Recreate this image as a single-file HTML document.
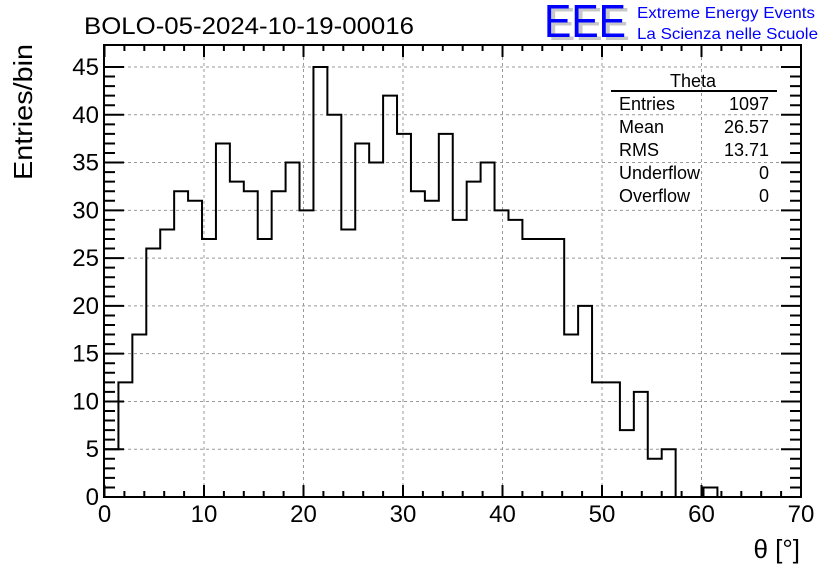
<!DOCTYPE html>
<html><head><meta charset="utf-8"><style>
html,body{margin:0;padding:0;background:#fff;}
svg{display:block;font-family:"Liberation Sans",Arial,sans-serif;}
</style></head><body>
<svg id="chart" width="836" height="572" viewBox="0 0 836 572" xmlns="http://www.w3.org/2000/svg">
<rect width="836" height="572" fill="#fff"/>
<text x="84" y="34" font-size="24" textLength="330" lengthAdjust="spacingAndGlyphs">BOLO-05-2024-10-19-00016</text>
<g>
<text x="548" y="40" font-size="46" fill="#c8c8c8" textLength="82" lengthAdjust="spacingAndGlyphs">EEE</text>
<text x="544" y="37" font-size="46" fill="#0000ff" textLength="82" lengthAdjust="spacingAndGlyphs">EEE</text>
<text x="637" y="18" font-size="16" fill="#0000ff" textLength="178" lengthAdjust="spacingAndGlyphs">Extreme Energy Events</text>
<text x="637" y="39" font-size="16" fill="#0000ff" textLength="181" lengthAdjust="spacingAndGlyphs">La Scienza nelle Scuole</text>
</g>
<g id="grid"></g>
<g id="ticks"></g>
<g id="labels" font-size="24"></g>
<path id="hist" fill="none" stroke="#000" stroke-width="2"/>
<rect x="104" y="45" width="697" height="452" fill="none" stroke="#000" stroke-width="2"/>
<text transform="translate(32,180) rotate(-90)" font-size="26" textLength="136" lengthAdjust="spacingAndGlyphs">Entries/bin</text>
<text x="800" y="558" font-size="26" text-anchor="end">θ [°]</text>
<g font-size="18">
<text x="693" y="87" text-anchor="middle">Theta</text>
<line x1="611" y1="91" x2="777" y2="91" stroke="#000" stroke-width="2"/>
<text x="619" y="110">Entries</text><text x="769" y="110" text-anchor="end">1097</text>
<text x="619" y="133">Mean</text><text x="769" y="133" text-anchor="end">26.57</text>
<text x="619" y="156">RMS</text><text x="769" y="156" text-anchor="end">13.71</text>
<text x="619" y="179">Underflow</text><text x="769" y="179" text-anchor="end">0</text>
<text x="619" y="202">Overflow</text><text x="769" y="202" text-anchor="end">0</text>
</g>
</svg>
<script>
const binWidth = 1.4;
const counts = [5,12,17,26,28,32,31,27,37,33,32,27,32,35,30,45,40,28,37,35,42,38,32,31,38,29,33,35,30,29,27,27,27,17,20,12,12,7,11,4,5,0,0,1,0,0,0,0,0,0];
const xTicks = [0,10,20,30,40,50,60,70];
const yTicks = [0,5,10,15,20,25,30,35,40,45];

const X0=104.5, X1=801, Y0=497, Y45=67;
const xs = v => X0 + (X1-X0)*v/70;
const ys = v => Y0 - (Y0-Y45)*v/45;
const NS='http://www.w3.org/2000/svg';
function mk(tag, parent){const e=document.createElementNS(NS,tag);document.getElementById(parent).appendChild(e);return e;}

yTicks.forEach(v=>{
  if(v>0){
    const g=mk('line','grid');
    
    
    g.setAttribute('x1',104);g.setAttribute('x2',801);g.setAttribute('y1',ys(v));g.setAttribute('y2',ys(v));
    g.setAttribute('stroke','#999');g.setAttribute('stroke-dasharray','3,3');g.setAttribute('stroke-width','1');
  }
  const t=mk('text','labels');
  
  
  t.setAttribute('x',99);t.setAttribute('y',ys(v)+8);t.setAttribute('text-anchor','end');
  t.textContent=v;
});
xTicks.forEach(v=>{
  if(v>0&&v<70){
    const g=mk('line','grid');
    
    
    g.setAttribute('x1',xs(v));g.setAttribute('x2',xs(v));g.setAttribute('y1',45);g.setAttribute('y2',497);
    g.setAttribute('stroke','#999');g.setAttribute('stroke-dasharray','3,3');g.setAttribute('stroke-width','1');
  }
  const t=mk('text','labels');
  
  
  t.setAttribute('x',xs(v));t.setAttribute('y',522);t.setAttribute('text-anchor','middle');
  t.textContent=v;
});
let d='';
for(let v=0;v<=45;v++){
  const L=(v%5===0)?20:11;
  d+=`M104 ${ys(v)}h${L}M801 ${ys(v)}h${-L}`;
}
for(let v=0;v<=70;v+=2){
  const L=(v%10===0)?12:6;
  d+=`M${xs(v)} 497v${-L}M${xs(v)} 45v${L}`;
}
const tk=mk('path','ticks');


tk.setAttribute('d',d);tk.setAttribute('stroke','#000');tk.setAttribute('stroke-width','2');tk.setAttribute('fill','none');

let p=`M${xs(0)} ${ys(counts[0])}`;
counts.forEach((c,i)=>{
  const a=xs(i*binWidth), b=xs((i+1)*binWidth);
  p+=`L${a} ${ys(c)}L${b} ${ys(c)}`;
});
document.getElementById('hist').setAttribute('d',p);
</script>
</body></html>
